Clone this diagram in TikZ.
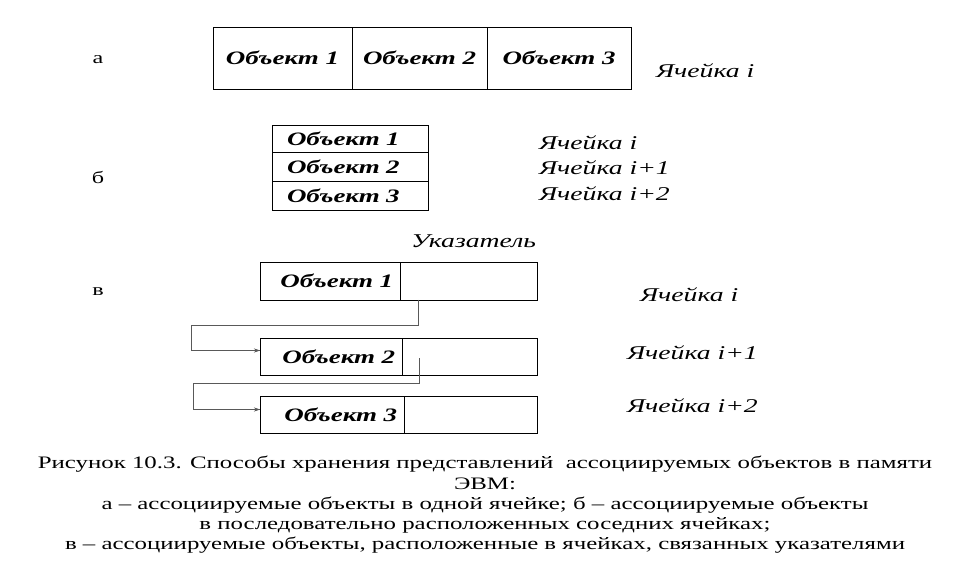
\documentclass[tikz,border=0pt]{standalone}
\usepackage{fontspec}
\setmainfont{Liberation Serif}[FakeStretch=1.42]
\usetikzlibrary{positioning,arrows.meta}

\begin{document}
\begin{tikzpicture}[x=1pt,y=-1pt,
      every node/.style={inner sep=0pt,outer sep=0pt},
      cell/.style={draw,line width=0.9pt,font=\fontsize{19}{19}\selectfont\bfseries\itshape},
      rowcell/.style={cell,text width=126pt,inner xsep=15pt,minimum height=29pt,align=left},
      linkcell/.style={cell,text width=126pt,inner xsep=7pt,align=right},
      cellname/.style={anchor=west,font=\fontsize{19.5}{19.5}\selectfont\itshape},
      partname/.style={font=\fontsize{17}{17}\selectfont},
      link/.style={black!65,line width=0.6pt},
      every lower node part/.style={blue}]
    \useasboundingbox (0,0) rectangle (978,580);
    % а
    \node[partname] (pa) at (98,60) {а};
    \node[cell,anchor=north west,minimum width=139pt,minimum height=62pt] (obja1) at (213,27) {Объект 1};
    \node[cell,right=0pt of obja1,minimum width=135pt,minimum height=62pt] (obja2) {Объект 2};
    \node[cell,right=0pt of obja2,minimum width=144pt,minimum height=62pt] (obja3) {Объект 3};
    \node[cellname] (ca) at (656,71) {Ячейка i};
    % б
    \node[partname] (pb) at (98,178) {б};
    \node[rowcell,anchor=north west,minimum height=27pt] (objb1) at (272,125) {Объект 1};
    \node[rowcell,below=0pt of objb1] (objb2) {Объект 2};
    \node[rowcell,below=0pt of objb2] (objb3) {Объект 3};
    \node[cellname] (cb1) at (539,143) {Ячейка i};
    \node[cellname] (cb2) at (539,168) {Ячейка i+1};
    \node[cellname] (cb3) at (539,194) {Ячейка i+2};
    % в
    \node[partname] (pv) at (98,292) {в};
    \node[cellname] (ptr) at (411,241) {Указатель};
    \node[linkcell,anchor=north west,text width=126pt,minimum height=38pt] (objv1) at (260,262) {Объект 1};
    \node[cell,right=0pt of objv1,minimum width=137pt,minimum height=38pt] (ptrv1) {};
    \node[linkcell,anchor=north west,text width=128pt,minimum height=37pt] (objv2) at (260,338) {Объект 2};
    \node[cell,right=0pt of objv2,minimum width=135pt,minimum height=37pt] (ptrv2) {};
    \node[linkcell,anchor=north west,text width=130pt,minimum height=37pt] (objv3) at (260,396) {Объект 3};
    \node[cell,right=0pt of objv3,minimum width=133pt,minimum height=37pt] (ptrv3) {};
    \node[cellname] (cv1) at (640,295) {Ячейка i};
    \node[cellname] (cv2) at (627,353) {Ячейка i+1};
    \node[cellname] (cv3) at (627,406) {Ячейка i+2};
    \coordinate (p1) at (418,300);
    \coordinate (p2) at (419,358);
    \draw[link] (p1) |- (191,325) |- ([yshift=6pt]objv2.west);
    \draw[link,-{Stealth[length=6pt,width=4pt]}] (191,350.5) -- ([yshift=6pt]objv2.west);
    \draw[link] (p2) |- (193,383) |- ([yshift=5pt]objv3.west);
    \draw[link,-{Stealth[length=6pt,width=4pt]}] (193,409.5) -- ([yshift=5pt]objv3.west);
    % caption
    \node[align=center,font=\fontsize{17.5}{20.2}\selectfont] (cap) at (485,505)
      {Рисунок 10.3. Способы хранения представлений\ \ ассоциируемых объектов в памяти\\
       ЭВМ:\\
       а – ассоциируемые объекты в одной ячейке; б – ассоциируемые объекты\\
       в последовательно расположенных соседних ячейках;\\
       в – ассоциируемые объекты, расположенные в ячейках, связанных указателями};
  \end{tikzpicture}
\end{document}
